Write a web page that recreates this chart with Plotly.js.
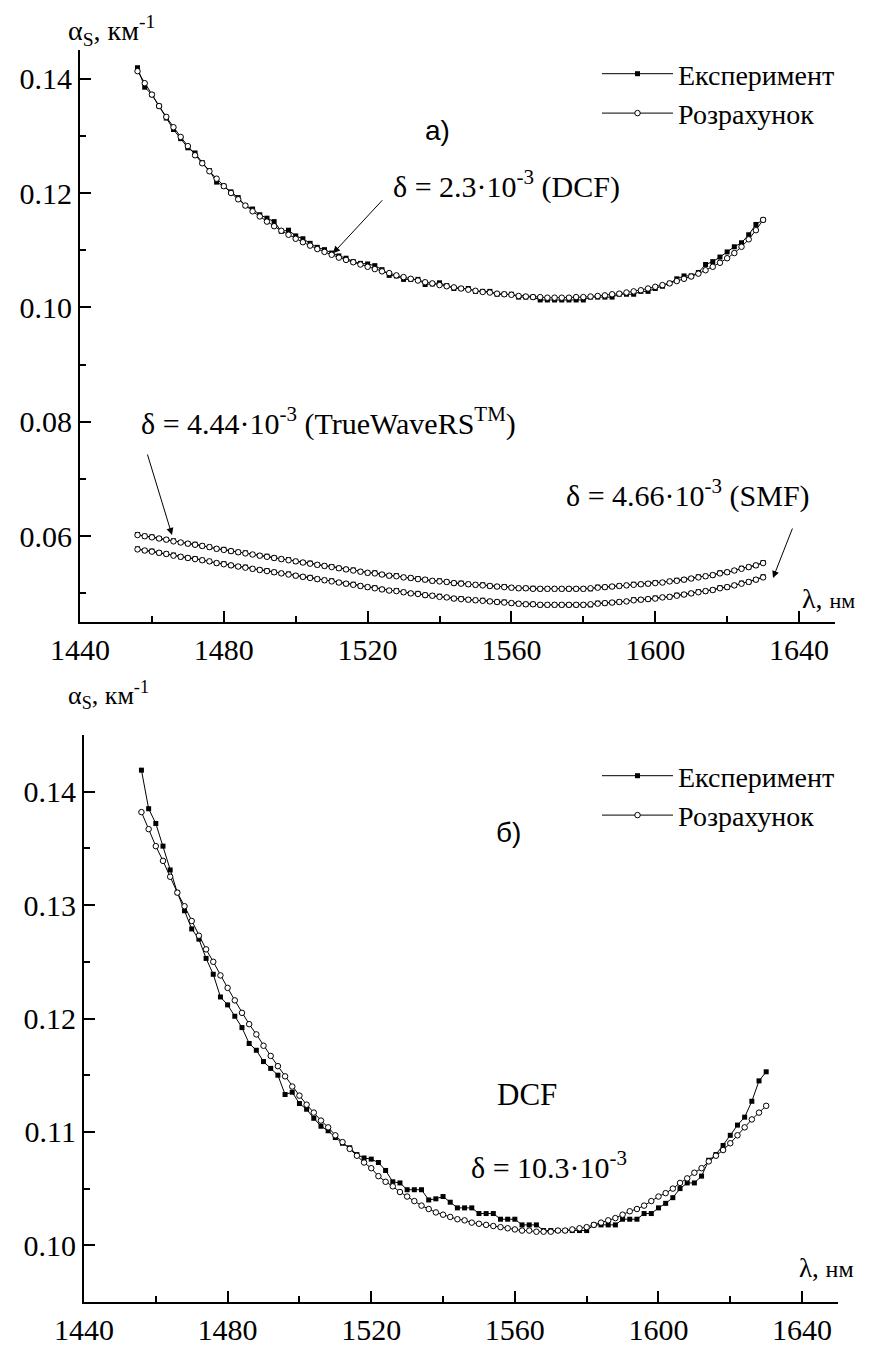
<!DOCTYPE html>
<html><head><meta charset="utf-8">
<script src="https://cdn.plot.ly/plotly-3.0.1.min.js"></script>
<style>html,body{margin:0;padding:0;background:#fff}</style>
</head><body><div id="chart" style="width:873px;height:1346px"></div>
<script>
// wavelength, nm
const wavelength = [
1456,1458,1460,1462,1464,1466,1468,1470,1472,1474,
1476,1478,1480,1482,1484,1486,1488,1490,1492,1494,
1496,1498,1500,1502,1504,1506,1508,1510,1512,1514,
1516,1518,1520,1522,1524,1526,1528,1530,1532,1534,
1536,1538,1540,1542,1544,1546,1548,1550,1552,1554,
1556,1558,1560,1562,1564,1566,1568,1570,1572,1574,
1576,1578,1580,1582,1584,1586,1588,1590,1592,1594,
1596,1598,1600,1602,1604,1606,1608,1610,1612,1614,
1616,1618,1620,1622,1624,1626,1628,1630];

// DCF measured
const dcfExp = [
.1419,.1385,.1372,.1352,.1331,.1311,.1295,.1279,.1270,.1253,
.1239,.1219,.1212,.1202,.1192,.1178,.1172,.1162,.1156,.1150,
.1133,.1135,.1125,.1120,.1112,.1105,.1101,.1095,.1090,.1086,
.1080,.1077,.1076,.1073,.1066,.1056,.1055,.1049,.1049,.1049,
.1040,.1041,.1043,.1038,.1033,.1033,.1033,.1028,.1028,.1028,
.1023,.1023,.1023,.1018,.1018,.1018,.1013,.1013,.1013,.1013,
.1013,.1013,.1013,.1018,.1018,.1018,.1018,.1023,.1023,.1023,
.1028,.1028,.1033,.1037,.1042,.1050,.1055,.1055,.1061,.1075,
.1080,.1088,.1097,.1106,.1113,.1127,.1145,.1153];

// DCF calculated, panel а)
const dcfCalcA = [
.1413,.1392,.1372,.1352,.1333,.1315,.1298,.1282,.1266,.1252,
.1238,.1225,.1212,.1200,.1189,.1178,.1168,.1159,.1150,.1142,
.1134,.1127,.1120,.1114,.1108,.1102,.1097,.1092,.1087,.1083,
.1079,.1075,.1071,.1067,.1063,.1060,.1056,.1053,.1050,.1047,
.1044,.1042,.1039,.1037,.1035,.1033,.1031,.1029,.1027,.1026,
.1024,.1023,.1022,.1020,.1019,.1018,.1018,.1017,.1017,.1017,
.1017,.1018,.1018,.1019,.1020,.1021,.1023,.1024,.1026,.1028,
.1030,.1033,.1036,.1039,.1042,.1046,.1050,.1054,.1059,.1065,
.1071,.1078,.1086,.1095,.1106,.1119,.1135,.1153];

// DCF calculated, panel б)
const dcfCalcB = [
.1382,.1367,.1352,.1339,.1325,.1311,.1299,.1286,.1273,.1261,
.1250,.1238,.1227,.1216,.1205,.1195,.1186,.1176,.1167,.1158,
.1149,.1140,.1132,.1124,.1117,.1110,.1104,.1097,.1091,.1085,
.1079,.1073,.1068,.1061,.1056,.1052,.1047,.1043,.1039,.1035,
.1032,.1029,.1027,.1025,.1023,.1022,.1020,.1019,.1018,.1017,
.1016,.1015,.1014,.1013,.1013,.1012,.1012,.1012,.1013,.1013,
.1014,.1015,.1016,.1018,.1020,.1022,.1024,.1027,.1030,.1032,
.1035,.1039,.1043,.1046,.1050,.1055,.1059,.1064,.1068,.1074,
.1079,.1084,.1090,.1097,.1104,.1111,.1117,.1123];

// TrueWaveRS measured / calculated
const twExp = [
.0603,.0600,.0599,.0596,.0594,.0592,.0589,.0587,.0586,.0583,
.0581,.0578,.0577,.0574,.0572,.0571,.0568,.0566,.0565,.0562,
.0560,.0559,.0556,.0554,.0553,.0550,.0548,.0547,.0544,.0542,
.0541,.0538,.0536,.0536,.0533,.0531,.0531,.0528,.0527,.0526,
.0524,.0522,.0522,.0520,.0518,.0518,.0516,.0515,.0515,.0513,
.0512,.0512,.0510,.0509,.0509,.0509,.0508,.0508,.0508,.0508,
.0508,.0508,.0508,.0508,.0511,.0511,.0512,.0513,.0514,.0516,
.0516,.0517,.0519,.0519,.0521,.0523,.0524,.0526,.0529,.0530,
.0532,.0536,.0537,.0540,.0544,.0546,.0549,.0554];
const twCalc = [
.0602,.0600,.0598,.0596,.0594,.0591,.0589,.0587,.0585,.0583,
.0581,.0578,.0576,.0574,.0572,.0570,.0568,.0566,.0564,.0562,
.0560,.0558,.0556,.0554,.0552,.0550,.0548,.0546,.0544,.0542,
.0540,.0538,.0536,.0535,.0533,.0531,.0530,.0528,.0527,.0525,
.0524,.0522,.0521,.0520,.0518,.0517,.0516,.0515,.0514,.0513,
.0512,.0511,.0510,.0509,.0509,.0508,.0508,.0508,.0508,.0508,
.0508,.0508,.0508,.0509,.0510,.0511,.0512,.0513,.0514,.0515,
.0516,.0517,.0518,.0519,.0521,.0522,.0524,.0526,.0528,.0530,
.0532,.0535,.0537,.0540,.0543,.0546,.0549,.0553];

// SMF measured / calculated
const smfExp = [
.0578,.0575,.0574,.0571,.0569,.0567,.0564,.0562,.0561,.0558,
.0556,.0553,.0552,.0549,.0547,.0546,.0543,.0541,.0540,.0537,
.0535,.0534,.0531,.0529,.0528,.0525,.0523,.0522,.0519,.0517,
.0516,.0513,.0511,.0510,.0507,.0505,.0505,.0502,.0500,.0500,
.0497,.0496,.0495,.0493,.0491,.0491,.0489,.0488,.0488,.0486,
.0485,.0485,.0483,.0482,.0481,.0481,.0480,.0480,.0480,.0480,
.0480,.0480,.0480,.0480,.0483,.0483,.0484,.0485,.0486,.0489,
.0489,.0490,.0492,.0493,.0494,.0497,.0498,.0500,.0503,.0504,
.0506,.0510,.0511,.0514,.0518,.0520,.0524,.0529];
const smfCalc = [
.0577,.0575,.0573,.0571,.0569,.0566,.0564,.0562,.0560,.0558,
.0556,.0553,.0551,.0549,.0547,.0545,.0543,.0541,.0539,.0537,
.0535,.0533,.0531,.0529,.0527,.0525,.0523,.0521,.0519,.0517,
.0515,.0513,.0511,.0509,.0507,.0505,.0504,.0502,.0500,.0499,
.0497,.0496,.0494,.0493,.0491,.0490,.0489,.0488,.0487,.0486,
.0485,.0484,.0483,.0482,.0481,.0481,.0480,.0480,.0480,.0480,
.0480,.0480,.0480,.0481,.0482,.0483,.0484,.0485,.0486,.0488,
.0489,.0490,.0491,.0493,.0494,.0496,.0498,.0500,.0502,.0504,
.0506,.0509,.0511,.0514,.0517,.0520,.0524,.0528];

const legendNames = ['Експеримент', 'Розрахунок'];
const xTickStep = 40, yTickStepA = 0.02, yTickStepB = 0.01;

const W = 873, H = 1346;
const px = v => v / W, py = v => 1 - v / H;
const serif = '"Liberation Serif", "Times New Roman", Times, serif';
const sans = '"Liberation Sans", Arial, sans-serif';

const expStyle = {mode:'lines+markers', line:{color:'#000', width:1},
  marker:{symbol:'square', size:5, color:'#000'}};
const calcStyle = {mode:'lines+markers', line:{color:'#000', width:1},
  marker:{symbol:'circle', size:5.5, color:'#fff', line:{color:'#000', width:1}}};

const traces = [
  {...expStyle, x:wavelength, y:twExp, xaxis:'x', yaxis:'y', showlegend:false},
  {...calcStyle, x:wavelength, y:twCalc, xaxis:'x', yaxis:'y', showlegend:false},
  {...expStyle, x:wavelength, y:smfExp, xaxis:'x', yaxis:'y', showlegend:false},
  {...calcStyle, x:wavelength, y:smfCalc, xaxis:'x', yaxis:'y', showlegend:false},
  {...expStyle, x:wavelength, y:dcfExp, xaxis:'x', yaxis:'y', name:legendNames[0], legend:'legend'},
  {...calcStyle, x:wavelength, y:dcfCalcA, xaxis:'x', yaxis:'y', name:legendNames[1], legend:'legend'},
  {...expStyle, x:wavelength, y:dcfExp, xaxis:'x2', yaxis:'y2', name:legendNames[0], legend:'legend2'},
  {...calcStyle, x:wavelength, y:dcfCalcB, xaxis:'x2', yaxis:'y2', name:legendNames[1], legend:'legend2'}
];

const axisCommon = {
  showline:true, linecolor:'#000', linewidth:2,
  ticks:'inside', ticklen:11, tickwidth:2, tickcolor:'#000',
  showgrid:false, zeroline:false,
  tickfont:{family:serif, size:30, color:'#000'}
};
const xCommon = {...axisCommon, range:[1440,1650], tick0:1440, dtick:xTickStep,
  minor:{ticks:'inside', ticklen:6, tickwidth:2, tickcolor:'#000', dtick:xTickStep/2, tick0:1440}};

const legendCommon = {xanchor:'left', yanchor:'top', bgcolor:'rgba(0,0,0,0)',
  font:{family:serif, size:28, color:'#000'}, itemwidth:71, traceorder:'normal'};

function txt(text, x, y, size, family, xanchor) {
  return {text, xref:'paper', yref:'paper', x:px(x), y:py(y), showarrow:false,
    xanchor:xanchor||'center', yanchor:'middle', font:{family:family||serif, size, color:'#000'}};
}
function arrow(tipX, tipY, tailX, tailY) {
  return {text:'', xref:'paper', yref:'paper', x:px(tipX), y:py(tipY),
    ax:tailX-tipX, ay:tailY-tipY, showarrow:true, arrowhead:2, arrowsize:1.4,
    arrowwidth:1, arrowcolor:'#000', standoff:0, startstandoff:0};
}
// arrow pointing at the DCF curve (tip on the data point at 1510 nm)
const dcfTipIndex = wavelength.indexOf(1510);
const dcfArrow = {text:'', xref:'x', yref:'y', x:wavelength[dcfTipIndex], y:dcfCalcA[dcfTipIndex],
  ax:52, ay:-56, showarrow:true, arrowhead:2, arrowsize:1.4, arrowwidth:1,
  arrowcolor:'#000', standoff:2, startstandoff:0};

const layout = {
  width:W, height:H, margin:{l:0,r:0,t:0,b:0},
  paper_bgcolor:'#fff', plot_bgcolor:'rgba(0,0,0,0)',
  xaxis:{...xCommon, domain:[px(80),px(835)], anchor:'y'},
  yaxis:{...axisCommon, domain:[py(622),py(50)], range:[0.045,0.145], tick0:0, dtick:yTickStepA,
    tickformat:'.2f', anchor:'x',
    minor:{ticks:'inside', ticklen:6, tickwidth:2, tickcolor:'#000', dtick:yTickStepA/2, tick0:0}},
  xaxis2:{...xCommon, domain:[px(84),px(838)], anchor:'y2'},
  yaxis2:{...axisCommon, domain:[py(1302),py(735)], range:[0.095,0.145], tick0:0, dtick:yTickStepB,
    tickformat:'.2f', anchor:'x2',
    minor:{ticks:'inside', ticklen:6, tickwidth:2, tickcolor:'#000', dtick:yTickStepB/2, tick0:0}},
  legend:{...legendCommon, x:px(597), y:py(49)},
  legend2:{...legendCommon, x:px(597), y:py(751)},
  annotations:[
    txt('α<sub>S</sub>, км<sup>-1</sup>', 66, 30, 28, serif, 'left'),
    txt('λ, <span style="font-size:22px">нм</span>', 800, 598, 28, serif, 'left'),
    txt('а)', 437, 130, 28, sans),
    txt('δ = 2.3·10<sup>-3</sup> (DCF)', 506, 185, 30),
    dcfArrow,
    txt('δ = 4.44·10<sup>-3</sup> (TrueWaveRS<sup>TM</sup>)', 328, 421, 30),
    arrow(172, 535, 147, 453),
    txt('δ = 4.66·10<sup>-3</sup> (SMF)', 688, 493, 30),
    arrow(773, 578, 793, 527),
    txt('α<sub>S</sub>, км<sup>-1</sup>', 66, 695, 26, serif, 'left'),
    txt('λ, <span style="font-size:24px">нм</span>', 797, 1268, 27, serif, 'left'),
    txt('б)', 508, 832, 28, sans),
    txt('DCF', 527, 1094, 31),
    txt('δ = 10.3·10<sup>-3</sup>', 549, 1165, 30)
  ]
};

Plotly.newPlot('chart', traces, layout, {staticPlot:true, displayModeBar:false});
</script></body></html>
